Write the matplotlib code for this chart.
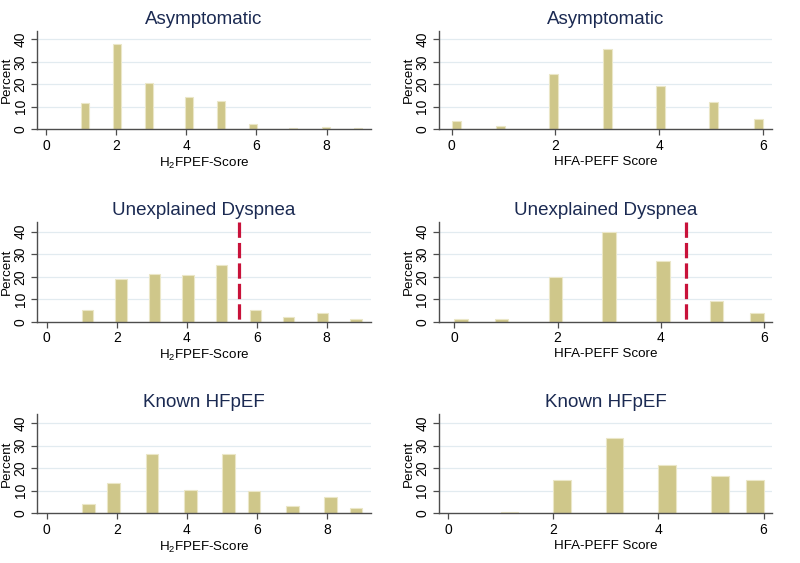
import numpy as np
import matplotlib
matplotlib.use('Agg')
import matplotlib.pyplot as plt

plt.rcParams['font.family'] = ['Liberation Sans', 'DejaVu Sans']
plt.rcParams['mathtext.default'] = 'regular'

# ---- data (percent of patients per score) ----
h2_scores = [1, 2, 3, 4, 5, 6, 7, 8, 9]
hfa_scores = [0, 1, 2, 3, 4, 5, 6]

h2_asym = [11.5, 37.8, 20.4, 14.4, 12.4, 2.5, 0.6, 1.0, 0.6]
hfa_asym = [3.6, 1.4, 24.5, 35.9, 19.4, 12.1, 4.6]
h2_dysp = [5.1, 18.9, 21.2, 20.8, 25.1, 5.1, 2.0, 3.9, 1.0]
hfa_dysp = [1.3, 1.3, 20.0, 39.7, 27.0, 9.3, 4.0]
h2_known = [4.0, 13.3, 26.4, 10.2, 26.4, 9.8, 3.3, 7.1, 2.2]
hfa_known = [0.0, 0.6, 14.8, 33.3, 21.3, 16.7, 14.8]

titles = ['Asymptomatic', 'Unexplained Dyspnea', 'Known HFpEF']
h2_label = 'H$_2$FPEF-Score'
hfa_label = 'HFA-PEFF Score'
h2_cut = 5.5
hfa_cut = 4.5

# number of histogram bins used in each panel (Stata default binning)
h2_bins = [35, 25, 22]
hfa_bins = [35, 23, 15]

# ---- style ----
BAR = '#cfc78a'
BAR_EDGE = '#ebe7c8'
GRID = '#e2ebf0'
AXC = '#4d4d4d'
TITLE_C = '#1b2a52'
RED = '#c8123a'

W, H = 800, 563
fig = plt.figure(figsize=(8.0, 5.63), dpi=100)

rows_px = [(31, 129.3), (222.3, 321.7), (414.0, 513.3)]
cols_px = [(37.3, 370.7), (439.0, 772.0)]
xlims_h2 = [(-0.25, 9.26), (-0.27, 9.26), (-0.27, 9.24)]
xlims_hfa = [(-0.245, 6.18), (-0.30, 6.16), (-0.17, 6.16)]
ytops = [43.7, 44.2, 44.1]


def panel(ax, scores, pct, nbins, title, xlabel, xlim, ytop, xticks, cut=None):
    scores = np.asarray(scores, float)
    pct = np.asarray(pct, float)
    present = scores[pct > 0]
    edges = np.linspace(present.min(), present.max(), nbins + 1)
    ax.hist(scores, bins=edges, weights=pct, color=BAR, edgecolor=BAR_EDGE,
            linewidth=0.8, zorder=2)
    ax.set_xlim(*xlim)
    ax.set_ylim(0, ytop)
    ax.set_yticks([0, 10, 20, 30, 40])
    ax.set_xticks(xticks)
    for y in [10, 20, 30, 40]:
        ax.axhline(y, color=GRID, lw=0.9, zorder=1)
    for s in ['top', 'right']:
        ax.spines[s].set_visible(False)
    for s in ['left', 'bottom']:
        ax.spines[s].set_color(AXC)
        ax.spines[s].set_linewidth(1.0)
    ax.tick_params(direction='out', length=4, width=0.9, color=AXC,
                   labelsize=10, pad=3)
    for lab in ax.get_yticklabels():
        lab.set_rotation(90)
        lab.set_va('center')
    ax.set_title(title, fontsize=13.5, color=TITLE_C, pad=5)
    ax.set_ylabel('Percent', fontsize=9.6)
    ax.yaxis.set_label_coords(-0.073, 0.5)
    ax.set_xlabel(xlabel, fontsize=9.6, labelpad=2)
    if cut is not None:
        ax.plot([cut, cut], [1, 0], transform=ax.get_xaxis_transform(),
                color=RED, lw=2.3, dashes=(4.8, 1.6), zorder=3,
                solid_capstyle='butt', dash_capstyle='butt')


h2_data = [h2_asym, h2_dysp, h2_known]
hfa_data = [hfa_asym, hfa_dysp, hfa_known]

for r in range(3):
    top, bot = rows_px[r]
    for c in range(2):
        l, rr = cols_px[c]
        ax = fig.add_axes([l / W, 1 - bot / H, (rr - l) / W, (bot - top) / H])
        if c == 0:
            panel(ax, h2_scores, h2_data[r], h2_bins[r], titles[r], h2_label,
                  xlims_h2[r], ytops[r], [0, 2, 4, 6, 8],
                  cut=h2_cut if r == 1 else None)
        else:
            panel(ax, hfa_scores, hfa_data[r], hfa_bins[r], titles[r], hfa_label,
                  xlims_hfa[r], ytops[r], [0, 2, 4, 6],
                  cut=hfa_cut if r == 1 else None)

fig.savefig('out.png', dpi=100)
